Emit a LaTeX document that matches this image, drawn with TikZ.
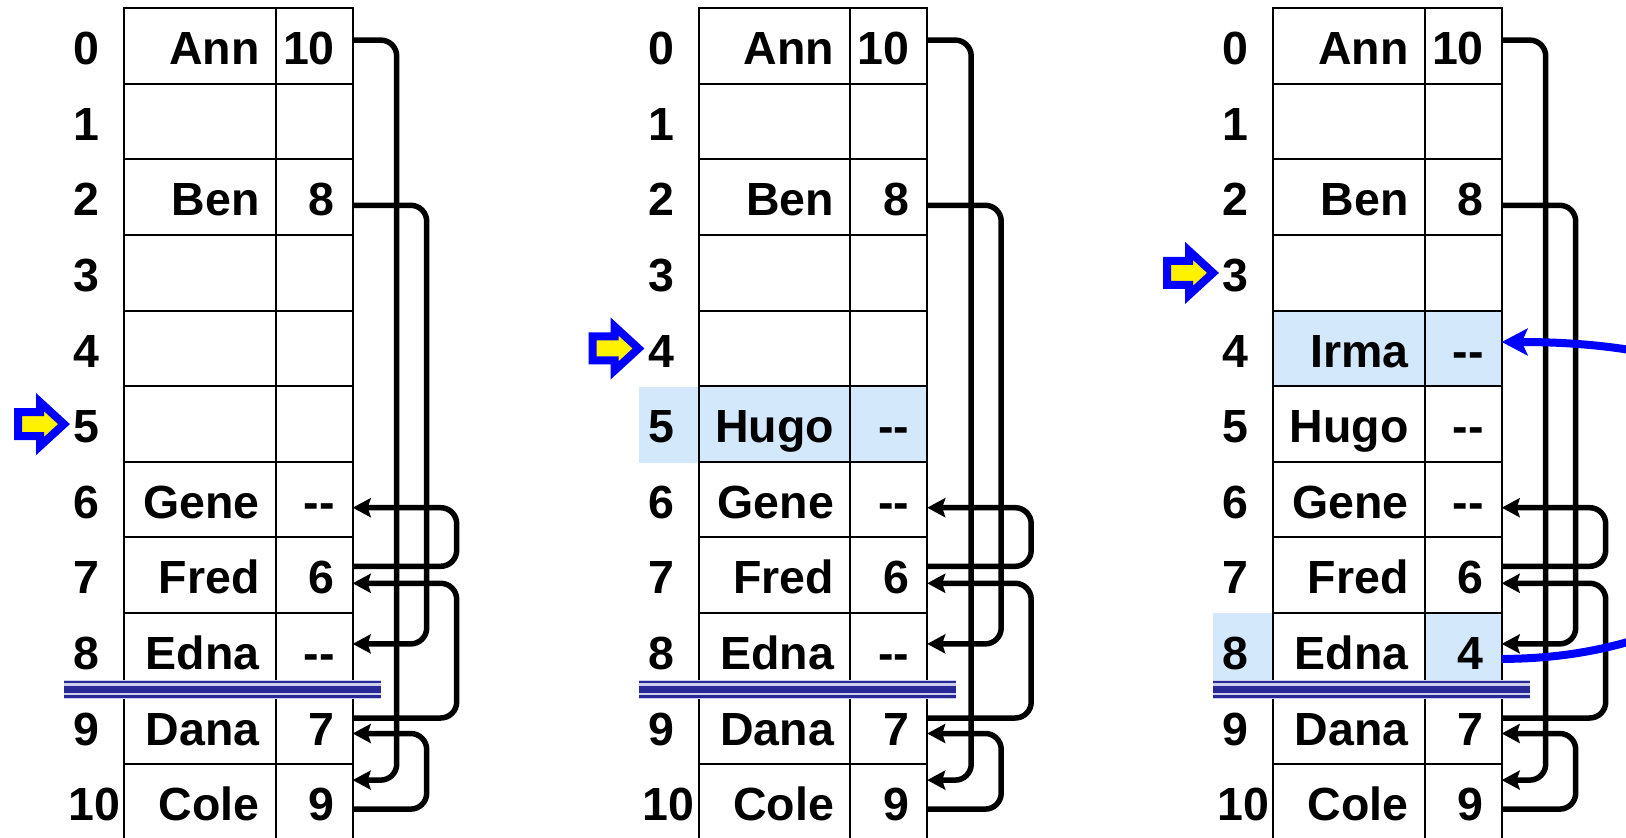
\documentclass[tikz,border=0pt]{standalone}
\usepackage{fontspec}
\setmainfont{Liberation Sans}
\usetikzlibrary{arrows.meta}

\definecolor{hilite}{RGB}{212,232,252}
\definecolor{sepblue}{RGB}{40,40,150}
\definecolor{seplight}{RGB}{205,205,236}

\begin{document}
\begin{tikzpicture}[x=0.5pt, y=-0.5pt,
  namecell/.style={draw=black, line width=1pt, minimum width=75.75pt, minimum height=37.8pt, inner sep=0pt, outer sep=0pt},
  ptrcell/.style={namecell, minimum width=38.6pt},
  lbl/.style={font=\fontsize{23.25}{28}\selectfont\bfseries, inner sep=0pt, anchor=base east},
  link/.style={draw=black, line width=2.75pt, rounded corners=8pt, -{Stealth[length=9pt, width=9.5pt, inset=1.5pt]}},
  newlink/.style={draw=blue, line width=4pt, -{Stealth[length=13pt, width=13.5pt, inset=3pt]}},
  freeptr/.style={draw=blue, fill=yellow, line width=4pt, line join=miter},
  sepline/.style={draw=sepblue}]
  \useasboundingbox (0,0) rectangle (1626,838);
  \clip (0,0) rectangle (1626,838);

  % highlighted cells
  \fill[hilite] (638.5,387.3) rectangle (927.2,462.7);
  \fill[hilite] (1273,311.7) rectangle (1501.7,387.3);
  \fill[hilite] (1213,613.3) rectangle (1273,688.7);
  \fill[hilite] (1424.5,613.3) rectangle (1501.7,688.7);

  % the three tables
  \foreach \t/\dx in {A/0,B/574.5,C/1149} {
    \foreach \r in {0,...,10} {
      \node[namecell] (n\t\r) at (199.75+\dx, 46.1+75.6*\r) {};
      \node[ptrcell]  (p\t\r) at (314.1+\dx, 46.1+75.6*\r) {};
    }
    \foreach \r in {0,...,9}
      \node[lbl] (i\t\r) at (100+\dx, 64.8+75.6*\r) {\r};
    \node[lbl] (i\t10) at (120.5+\dx, 820.8) {10};

    \fill[seplight] (64+\dx,680) rectangle (381+\dx,698.5);
    \draw[sepline, line width=1.25pt] (64+\dx,682) -- (381+\dx,682);
    \draw[sepline, line width=3.25pt] (64+\dx,689.3) -- (381+\dx,689.3);
    \draw[sepline, line width=1.25pt] (64+\dx,696.5) -- (381+\dx,696.5);
  }

  % entries
  \foreach \t in {A,B}
    \foreach \r/\nm/\nx in {0/Ann/10, 2/Ben/8, 6/Gene/-{}-, 7/Fred/6, 8/Edna/-{}-, 9/Dana/7, 10/Cole/9} {
      \node[lbl] (t\t\r) at ([xshift=-7.75pt, yshift=-9.35pt]n\t\r.east) {\nm};
      \node[lbl] (v\t\r) at ([xshift=-8.75pt, yshift=-9.35pt]p\t\r.east) {\nx};
    }
  \node[lbl] (tB5) at ([xshift=-7.75pt, yshift=-9.35pt]nB5.east) {Hugo};
  \node[lbl] (vB5) at ([xshift=-8.75pt, yshift=-9.35pt]pB5.east) {-{}-};
  \foreach \r/\nm/\nx in {0/Ann/10, 2/Ben/8, 4/Irma/-{}-, 5/Hugo/-{}-, 6/Gene/-{}-, 7/Fred/6, 8/Edna/4, 9/Dana/7, 10/Cole/9} {
    \node[lbl] (tC\r) at ([xshift=-7.75pt, yshift=-9.35pt]nC\r.east) {\nm};
    \node[lbl] (vC\r) at ([xshift=-8.75pt, yshift=-9.35pt]pC\r.east) {\nx};
  }

  % free pointer
  \foreach \tx/\ty in {64/424.1, 638.5/348.5, 1213/272.9}
    \draw[freeptr] (\tx-46,\ty-12) -- ++(22,0) -- ++(0,-10) -- (\tx,\ty)
      -- (\tx-24,\ty+22) -- ++(0,-10) -- ++(-22,0) -- cycle;

  % next links
  \foreach \t in {A,B,C} {
    \draw[link] ([yshift=3pt]p\t0.east) -- ++(44,0) |- ([yshift=11pt]p\t10.east);
    \draw[link] ([yshift=-4pt]p\t2.east) -- ++(74,0) |- ([yshift=3.5pt]p\t8.east);
    \draw[link] ([yshift=4.5pt]p\t7.east) -- ++(104,0) |- ([yshift=-4pt]p\t6.east);
    \draw[link] ([yshift=4.25pt]p\t9.east) -- ++(104,0) |- ([yshift=-4pt]p\t7.east);
    \draw[link] ([yshift=-3.5pt]p\t10.east) -- ++(74,0) |- ([yshift=-3.5pt]p\t9.east);
  }
  \draw[newlink] ([yshift=-4pt]pC8.east) .. controls +(331,0) and +(457,0) .. ([yshift=3.25pt]pC4.east);
\end{tikzpicture}
\end{document}
